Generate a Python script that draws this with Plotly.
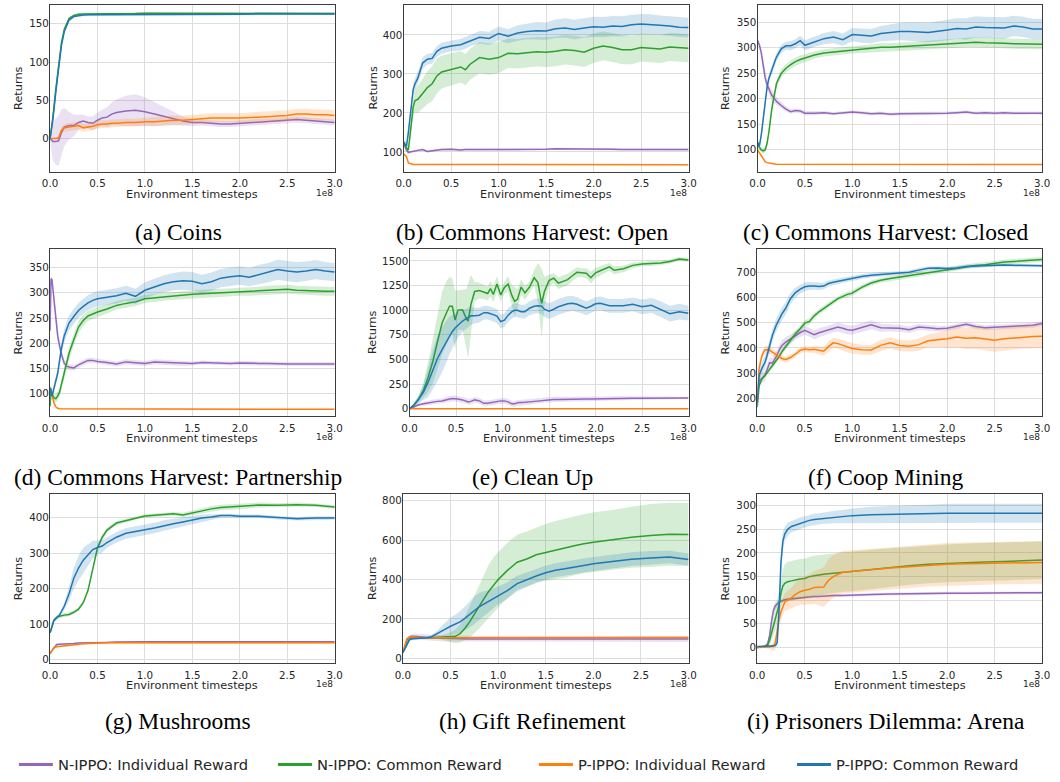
import plotly.graph_objects as go

# ---------------- data (x in units of 1e8 environment timesteps) ----------------
# (a) Coins
X_A = [0, 0.03, 0.06, 0.09, 0.12, 0.15, 0.2, 0.25, 0.3, 0.35, 0.4, 0.45, 0.5, 0.55, 0.6, 0.65, 0.7,
       0.8, 0.9, 1.0, 1.1, 1.2, 1.3, 1.4, 1.5, 1.6, 1.7, 1.8, 1.9, 2.0, 2.2, 2.4, 2.5, 2.6, 2.7, 2.8, 2.9, 3.0]
A_NI = [0, -4, -4, -3, 8, 15, 17, 17, 21, 23, 21, 20, 24, 27, 28, 32, 34,
        36, 37, 35, 32, 29, 26, 23, 21, 21, 20, 19, 19, 20, 22, 23, 24, 25, 24, 23, 22, 21]
A_NI_S = [2, 25, 30, 33, 30, 25, 18, 14, 10, 8, 8, 9, 10, 11, 13, 15, 17,
          20, 21, 19, 16, 12, 9, 6, 5, 4, 4, 4, 4, 4, 4, 4, 4, 4, 4, 4, 4, 4]
A_NC = [0, 28, 64, 98, 125, 143, 157, 161, 162.5, 163, 163, 163, 163.5, 163.5, 163.5, 163.5, 163.5,
        163.5, 163.5, 164, 164, 164, 164, 164, 164, 164, 164, 164, 164, 164, 164, 164, 164, 164, 164, 164, 164, 163.5]
A_NC_S = [0.5, 2, 3, 3, 3, 2, 2, 1.5, 1.5, 1.5, 1.5, 1.5, 1.5, 1.5, 1.5, 1.5, 1.5,
          1.5, 1.5, 1.5, 1.5, 1.5, 1.5, 1.5, 1.5, 1.5, 1.5, 1.5, 1.5, 1.5, 1.5, 1.5, 1.5, 1.5, 1.5, 1.5, 1.5, 1.5]
A_PI = [0, 0, 0, 1, 11, 14, 15, 16, 17, 14, 15, 16, 18, 19, 19, 20, 20,
        21, 21, 22, 22, 23, 24, 24, 25, 26, 27, 27, 27, 27, 28, 29, 30, 32, 32, 31, 31, 30]
A_PI_S = [0.5, 0.5, 0.5, 2, 4, 5, 5, 5, 5, 5, 5, 5, 5, 5, 5, 5, 5,
          5, 5, 5, 6, 6, 6, 6, 6, 6, 6, 6, 6, 6, 7, 7, 7, 7, 7, 7, 7, 7]
A_PC = [0, 25, 60, 95, 122, 140, 155, 159.5, 161, 161.5, 162, 162, 162, 162, 162, 162, 162,
        162.5, 162.5, 162.5, 162.5, 162.5, 162.5, 162.5, 162.5, 162.5, 162.5, 162.5, 162.5, 162.5,
        163, 163, 163, 163, 163, 163, 163, 163]
A_PC_S = [0.5, 2, 3, 3, 3, 2, 2, 1.5, 1.5, 1.5, 1.5, 1.5, 1.5, 1.5, 1.5, 1.5, 1.5,
          1.5, 1.5, 1.5, 1.5, 1.5, 1.5, 1.5, 1.5, 1.5, 1.5, 1.5, 1.5, 1.5, 1.5, 1.5, 1.5, 1.5, 1.5, 1.5, 1.5, 1.5]

# (b) Commons Harvest: Open
X_B = [0, 0.03, 0.05, 0.08, 0.1, 0.12, 0.15, 0.2, 0.25, 0.3,
       0.35, 0.4, 0.5, 0.6, 0.65, 0.7, 0.8, 0.9, 1.0,
       1.1, 1.2, 1.3, 1.4, 1.5, 1.6, 1.7, 1.8, 1.9, 2.0,
       2.1, 2.2, 2.3, 2.4, 2.5, 2.6, 2.7, 2.8, 2.9, 3.0]
B_NI = [124, 105, 99, 100, 102, 103, 104, 106, 101, 103,
        105, 106, 107, 105, 106, 106, 107, 107, 107,
        106, 106, 107, 107, 107, 108, 108, 107, 107, 107,
        107, 107, 106, 106, 106, 106, 106, 106, 106, 106]
B_NI_S = [5, 5, 4, 3, 3, 3, 3, 3, 3, 3,
          3, 3, 3, 3, 3, 3, 3, 3, 3,
          3, 3, 3, 3, 3, 3, 3, 3, 3, 3,
          3, 3, 3, 3, 3, 3, 3, 3, 3, 3]
B_NC = [124, 110, 105, 170, 215, 232, 235, 250, 265, 275,
        295, 305, 312, 318, 311, 325, 342, 338, 342,
        353, 352, 355, 357, 356, 358, 362, 360, 356, 366,
        372, 368, 362, 362, 368, 366, 364, 369, 367, 366]
B_NC_S = [8, 10, 12, 20, 25, 30, 35, 38, 42, 45,
          45, 42, 42, 40, 40, 40, 40, 40, 40,
          38, 38, 38, 38, 38, 38, 38, 38, 38, 38,
          37, 37, 37, 37, 36, 36, 36, 36, 36, 36]
B_PI = [95, 88, 72, 69, 68, 68, 68, 68, 68, 68,
        68, 67, 67, 67, 67, 67, 67, 67, 67,
        67, 67, 67, 67, 67, 67, 67, 67, 67, 67,
        67, 67, 67, 67, 67, 67, 67, 67, 67, 67]
B_PI_S = [2, 2, 2, 1, 1, 1, 1, 1, 1, 1,
          1, 1, 1, 1, 1, 1, 1, 1, 1,
          1, 1, 1, 1, 1, 1, 1, 1, 1, 1,
          1, 1, 1, 1, 1, 1, 1, 1, 1, 1]
B_PC = [124, 115, 150, 210, 260, 275, 290, 328, 338, 340,
        358, 366, 372, 375, 380, 386, 394, 391, 404,
        397, 405, 409, 411, 410, 416, 418, 414, 418, 421,
        420, 423, 422, 426, 428, 427, 425, 423, 420, 419]
B_PC_S = [8, 10, 12, 15, 15, 15, 15, 15, 14, 14,
          14, 14, 14, 15, 15, 15, 16, 17, 18,
          18, 20, 20, 22, 22, 24, 25, 25, 25, 26,
          26, 26, 26, 26, 26, 26, 25, 25, 25, 25]

# (c) Commons Harvest: Closed
X_C = [0, 0.02, 0.04, 0.06, 0.08, 0.1, 0.12, 0.15, 0.18, 0.2,
       0.25, 0.3, 0.35, 0.4, 0.45, 0.5, 0.6, 0.7, 0.8, 0.9,
       1.0, 1.1, 1.2, 1.3, 1.4, 1.5, 1.6, 1.8, 2.0, 2.1,
       2.2, 2.3, 2.4, 2.5, 2.6, 2.7, 2.8, 2.9, 3.0]
C_NI = [315, 305, 290, 265, 242, 228, 218, 207, 200, 195,
        187, 180, 175, 177, 176, 172, 172, 173, 171, 173,
        174, 173, 171, 172, 170, 171, 171, 171, 172, 173,
        174, 172, 173, 172, 173, 172, 172, 173, 172]
C_NI_S = [5, 6, 8, 10, 10, 10, 10, 10, 9, 8,
          6, 5, 4, 4, 4, 4, 4, 3, 3, 3,
          3, 3, 3, 3, 3, 3, 3, 3, 3, 3,
          3, 3, 3, 3, 3, 3, 3, 3, 3]
C_NC = [110, 104, 100, 98, 100, 112, 135, 180, 215, 230,
        250, 260, 267, 273, 277, 280, 286, 290, 292, 294,
        296, 298, 299, 301, 301, 302, 304, 306, 308, 309,
        310, 311, 310, 310, 309, 308, 308, 307, 307]
C_NC_S = [5, 5, 5, 5, 5, 6, 7, 8, 8, 8,
          8, 8, 8, 8, 8, 8, 7, 7, 7, 7,
          7, 7, 7, 8, 8, 8, 8, 8, 9, 9,
          9, 10, 10, 10, 10, 10, 10, 10, 10]
C_PI = [100, 94, 88, 82, 77, 75, 74, 73, 72.5, 72,
        72, 72, 72, 72, 72, 72, 72, 72, 72, 72,
        72, 72, 72, 72, 72, 72, 72, 72, 72, 72,
        72, 72, 72, 72, 72, 72, 71.5, 71.5, 71.5]
C_PI_S = [2, 2, 2, 2, 1, 1, 1, 1, 1, 1,
          1, 1, 1, 1, 1, 1, 1, 1, 1, 1,
          1, 1, 1, 1, 1, 1, 1, 1, 1, 1,
          1, 1, 1, 1, 1, 1, 1, 1, 1]
C_PC = [115, 108, 130, 160, 190, 222, 240, 258, 272, 282,
        298, 304, 304, 308, 314, 305, 312, 318, 321, 316,
        326, 324, 323, 328, 330, 332, 332, 330, 335, 338,
        337, 341, 340, 340, 339, 343, 341, 337, 337]
C_PC_S = [5, 6, 7, 8, 8, 8, 8, 8, 8, 8,
          8, 8, 9, 9, 10, 10, 10, 11, 12, 12,
          13, 14, 14, 15, 16, 17, 18, 19, 20, 20,
          21, 21, 21, 21, 21, 20, 20, 20, 20]

# (d) Commons Harvest: Partnership
X_D = [0, 0.01, 0.02, 0.04, 0.06, 0.08, 0.1, 0.12, 0.15, 0.18,
       0.2, 0.25, 0.3, 0.35, 0.4, 0.45, 0.5, 0.6, 0.7, 0.8,
       0.9, 1.0, 1.1, 1.2, 1.3, 1.4, 1.5, 1.6, 1.7, 1.8,
       1.9, 2.0, 2.1, 2.2, 2.3, 2.4, 2.5, 2.6, 2.7, 2.8,
       2.9, 3.0]
D_NI = [225, 328, 326, 290, 253, 215, 195, 178, 160, 154,
        153, 151, 157, 162, 166, 166, 164, 162, 159, 163,
        161, 160, 163, 162, 161, 160, 160, 162, 161, 161,
        160, 161, 160, 160, 160, 159, 159, 159, 159, 159,
        159, 159]
D_NI_S = [5, 5, 5, 8, 10, 10, 10, 9, 8, 7,
          6, 5, 5, 5, 5, 5, 5, 5, 5, 5,
          5, 5, 5, 5, 5, 5, 4, 4, 4, 4,
          4, 4, 4, 4, 4, 4, 4, 4, 4, 4,
          4, 4]
D_NC = [75, 110, 100, 92, 90, 95, 103, 118, 140, 167,
        180, 207, 232, 245, 254, 258, 262, 268, 275, 279,
        282, 288, 290, 292, 294, 296, 297, 298, 299, 300,
        301, 302, 302, 303, 305, 306, 307, 305, 304, 304,
        303, 303]
D_NC_S = [5, 6, 7, 8, 8, 8, 9, 10, 11, 12,
          12, 12, 12, 11, 10, 10, 10, 9, 8, 8,
          8, 8, 8, 8, 8, 8, 8, 8, 8, 8,
          8, 8, 8, 9, 9, 9, 9, 9, 9, 9,
          9, 9]
D_PI = [112, 108, 100, 82, 74, 71, 70, 70, 70, 70,
        70, 70, 70, 70, 70, 70, 70, 70, 70, 70,
        70, 70, 70, 70, 70, 70, 70, 70, 70, 70,
        70, 70, 70, 70, 70, 70, 69, 69, 69, 69,
        69, 69]
D_PI_S = [3, 3, 3, 2, 1, 1, 1, 1, 1, 1,
          1, 1, 1, 1, 1, 1, 1, 1, 1, 1,
          1, 1, 1, 1, 1, 1, 1, 1, 1, 1,
          1, 1, 1, 1, 1, 1, 1, 1, 1, 1,
          1, 1]
D_PC = [112, 100, 95, 110, 125, 140, 165, 190, 215, 232,
        240, 253, 265, 273, 280, 285, 288, 291, 294, 299,
        293, 305, 312, 318, 322, 324, 323, 318, 322, 329,
        332, 334, 331, 336, 340, 346, 343, 341, 343, 346,
        343, 341]
D_PC_S = [5, 8, 8, 8, 9, 10, 12, 13, 14, 15,
          15, 15, 15, 15, 15, 15, 15, 15, 15, 15,
          15, 16, 16, 17, 17, 18, 18, 18, 18, 18,
          18, 18, 18, 19, 19, 20, 20, 20, 19, 19,
          18, 18]

# (e) Clean Up
X_E = [0, 0.05, 0.1, 0.15, 0.2, 0.25, 0.3, 0.35, 0.4, 0.43,
       0.46, 0.49, 0.52, 0.57, 0.61, 0.63, 0.66, 0.7, 0.75, 0.8,
       0.84, 0.87, 0.9, 0.94, 0.98, 1.02, 1.06, 1.1, 1.13, 1.16,
       1.2, 1.24, 1.29, 1.34, 1.38, 1.42, 1.45, 1.5, 1.55, 1.6,
       1.65, 1.7, 1.75, 1.8, 1.85, 1.9, 1.95, 2.0, 2.05, 2.1,
       2.15, 2.2, 2.3, 2.4, 2.5, 2.6, 2.7, 2.8, 2.9, 3.0]
E_NI = [0, 20, 40, 50, 60, 70, 75, 80, 95, 100,
        105, 105, 100, 90, 80, 70, 75, 90, 80, 55,
        55, 60, 65, 75, 80, 80, 70, 50, 50, 60,
        60, 65, 70, 75, 80, 85, 90, 95, 95, 95,
        97, 98, 100, 100, 100, 100, 100, 100, 102, 104,
        105, 105, 106, 107, 108, 108, 109, 110, 110, 110]
E_NI_S = [3, 10, 15, 20, 25, 25, 25, 25, 28, 30,
          30, 30, 30, 30, 30, 30, 30, 30, 30, 30,
          30, 30, 30, 30, 30, 30, 30, 30, 30, 30,
          30, 30, 28, 28, 28, 27, 27, 26, 26, 26,
          25, 25, 25, 25, 24, 24, 24, 23, 23, 23,
          22, 22, 20, 20, 18, 16, 15, 14, 13, 12]
E_NC = [0, 40, 100, 190, 320, 480, 680, 870, 980, 1040,
        1040, 900, 1000, 1005, 915, 890, 1060, 1190, 1200, 1185,
        1170, 1220, 1160, 1265, 1155, 1230, 1265, 1150, 1090, 1110,
        1235, 1175, 1235, 1330, 1280, 1070, 1190, 1300, 1325, 1275,
        1295, 1310, 1350, 1385, 1380, 1375, 1330, 1380, 1400, 1420,
        1440, 1405, 1420, 1455, 1470, 1475, 1480, 1495, 1520, 1510]
E_NC_S = [3, 20, 40, 80, 150, 220, 280, 320, 320, 300,
          280, 300, 200, 200, 300, 380, 300, 100, 80, 70,
          70, 80, 80, 80, 70, 60, 80, 100, 150, 100,
          80, 70, 60, 80, 200, 350, 150, 60, 50, 60,
          60, 60, 55, 50, 45, 50, 60, 50, 45, 45,
          40, 40, 35, 30, 25, 25, 22, 20, 20, 20]
E_PI = [0, 0, 0, 0, 0, 0, 0, 0, 0, 0,
        0, 0, 0, 0, 0, 0, 0, 0, 0, 0,
        0, 0, 0, 0, 0, 0, 0, 0, 0, 0,
        0, 0, 0, 0, 0, 0, 0, 0, 0, 0,
        0, 0, 0, 0, 0, 0, 0, 0, 0, 0,
        0, 0, 0, 0, 0, 0, 0, 0, 0, 0]
E_PI_S = [2, 2, 2, 2, 2, 2, 2, 2, 2, 2,
          2, 2, 2, 2, 2, 2, 2, 2, 2, 2,
          2, 2, 2, 2, 2, 2, 2, 2, 2, 2,
          2, 2, 2, 2, 2, 2, 2, 2, 2, 2,
          2, 2, 2, 2, 2, 2, 2, 2, 2, 2,
          2, 2, 2, 2, 2, 2, 2, 2, 2, 2]
E_PC = [0, 40, 100, 170, 270, 400, 510, 600, 690, 745,
        785, 820, 850, 890, 915, 925, 943, 945, 950, 975,
        975, 965, 955, 940, 885, 900, 950, 985, 1000, 1000,
        985, 985, 1020, 1040, 1045, 1040, 1010, 990, 1010, 1035,
        1050, 1065, 1070, 1060, 1040, 1020, 1040, 1065, 1070, 1055,
        1045, 1045, 1045, 1060, 1035, 1050, 1010, 965, 985, 970]
E_PC_S = [3, 20, 40, 80, 150, 200, 230, 230, 210, 190,
          170, 150, 130, 110, 100, 100, 90, 80, 75, 70,
          70, 70, 70, 70, 70, 70, 70, 70, 70, 70,
          70, 70, 70, 75, 75, 80, 80, 80, 80, 80,
          80, 80, 75, 75, 70, 70, 70, 70, 70, 70,
          70, 70, 70, 70, 75, 75, 80, 80, 80, 75]

# (f) Coop Mining
X_F = [0, 0.02, 0.05, 0.08, 0.1, 0.13, 0.16, 0.2, 0.23, 0.26,
       0.3, 0.35, 0.4, 0.45, 0.5, 0.55, 0.6, 0.65, 0.7, 0.75,
       0.8, 0.85, 0.9, 0.95, 1.0, 1.1, 1.2, 1.3, 1.4, 1.5,
       1.6, 1.7, 1.8, 1.9, 2.0, 2.1, 2.2, 2.3, 2.4, 2.5,
       2.6, 2.7, 2.8, 2.9, 3.0]
F_NI = [195, 270, 280, 290, 310, 341, 340, 365, 390, 410,
        423, 435, 450, 460, 470, 462, 452, 460, 466, 472,
        480, 483, 478, 472, 470, 480, 492, 480, 480, 478,
        472, 483, 480, 476, 478, 485, 494, 485, 480, 482,
        485, 486, 488, 490, 497]
F_NI_S = [10, 20, 20, 20, 20, 20, 20, 20, 20, 20,
          20, 18, 18, 18, 18, 18, 18, 18, 18, 18,
          18, 18, 18, 18, 18, 18, 18, 16, 15, 14,
          13, 12, 12, 11, 10, 10, 10, 10, 10, 10,
          10, 10, 10, 10, 10]
F_NC = [165, 250, 278, 290, 300, 315, 330, 350, 365, 385,
        405, 430, 455, 475, 498, 505, 527, 543, 557, 570,
        582, 595, 605, 612, 617, 640, 657, 668, 675, 681,
        687, 693, 698, 702, 708, 716, 722, 726, 729, 735,
        740, 742, 745, 748, 750]
F_NC_S = [8, 10, 10, 10, 10, 10, 10, 10, 11, 12,
          12, 12, 12, 12, 12, 12, 12, 11, 11, 10,
          10, 10, 10, 10, 10, 10, 10, 10, 10, 10,
          10, 10, 10, 10, 10, 10, 10, 10, 10, 10,
          10, 10, 10, 10, 10]
F_PI = [180, 320, 370, 392, 394, 391, 383, 372, 365, 358,
        354, 362, 375, 390, 396, 393, 395, 390, 387, 405,
        420, 417, 410, 402, 398, 393, 392, 410, 420, 410,
        407, 413, 428, 432, 436, 443, 438, 440, 436, 430,
        436, 440, 443, 445, 446]
F_PI_S = [10, 15, 15, 15, 15, 15, 15, 15, 15, 13,
          12, 12, 12, 12, 12, 12, 14, 16, 18, 20,
          20, 20, 20, 20, 20, 20, 20, 22, 22, 22,
          22, 24, 25, 28, 35, 40, 42, 44, 45, 45,
          46, 46, 46, 46, 46]
F_PC = [180, 290, 320, 341, 365, 407, 450, 490, 515, 535,
        557, 595, 618, 632, 642, 645, 645, 643, 645, 655,
        660, 664, 668, 672, 676, 683, 688, 692, 694, 697,
        700, 708, 715, 716, 714, 716, 722, 724, 726, 727,
        728, 727, 726, 725, 725]
F_PC_S = [10, 20, 25, 25, 25, 25, 25, 25, 25, 25,
          25, 22, 20, 18, 18, 16, 15, 14, 13, 12,
          12, 11, 11, 10, 10, 10, 9, 9, 8, 8,
          8, 8, 7, 7, 7, 7, 7, 6, 6, 6,
          6, 6, 6, 6, 6]

# (g) Mushrooms
X_G = [0, 0.02, 0.04, 0.07, 0.1, 0.15, 0.2, 0.25, 0.3, 0.35,
       0.4, 0.45, 0.5, 0.55, 0.6, 0.7, 0.8, 0.9, 1.0, 1.1,
       1.2, 1.3, 1.4, 1.5, 1.6, 1.7, 1.8, 1.9, 2.0, 2.2,
       2.4, 2.6, 2.8, 3.0]
G_NI = [18, 25, 32, 42, 43, 43, 44, 45, 46, 46,
        47, 47, 48, 48, 48, 49, 50, 50, 50, 50,
        50, 50, 50, 50, 50, 50, 50, 50, 50, 50,
        50, 50, 50, 50]
G_NI_S = [2, 2, 2, 2, 2, 2, 2, 2, 2, 2,
          2, 2, 2, 2, 2, 2, 2, 2, 2, 2,
          2, 2, 2, 2, 2, 2, 2, 2, 2, 2,
          2, 2, 2, 2]
G_NC = [75, 90, 110, 118, 122, 125, 127, 133, 142, 160,
        195, 255, 315, 345, 365, 385, 392, 400, 405, 407,
        408, 411, 408, 414, 420, 425, 429, 431, 432, 436,
        435, 437, 435, 430]
G_NC_S = [3, 4, 5, 5, 5, 5, 5, 5, 5, 6,
          6, 7, 7, 7, 6, 6, 5, 5, 5, 5,
          5, 5, 6, 7, 8, 8, 8, 8, 8, 7,
          6, 6, 5, 5]
G_PI = [15, 25, 33, 36, 37, 38, 40, 42, 43, 44,
        45, 46, 46, 47, 47, 47, 47, 47, 48, 48,
        48, 48, 47, 47, 47, 47, 47, 47, 47, 47,
        47, 47, 47, 47]
G_PI_S = [2, 3, 3, 3, 3, 3, 3, 3, 3, 3,
          3, 3, 3, 3, 3, 3, 3, 3, 3, 3,
          3, 3, 3, 3, 3, 3, 3, 3, 3, 3,
          3, 3, 3, 3]
G_PC = [75, 90, 110, 118, 125, 150, 185, 229, 258, 280,
        295, 310, 316, 320, 330, 345, 356, 362, 366, 371,
        378, 383, 388, 394, 399, 402, 406, 406, 404, 404,
        400, 397, 399, 399]
G_PC_S = [3, 4, 5, 5, 5, 10, 20, 30, 35, 35,
          30, 25, 20, 18, 15, 15, 15, 15, 15, 15,
          15, 14, 12, 11, 10, 8, 6, 5, 5, 5,
          5, 5, 5, 5]

# (h) Gift Refinement
X_H = [0, 0.02, 0.04, 0.07, 0.1, 0.15, 0.2, 0.25, 0.3, 0.35,
       0.4, 0.45, 0.5, 0.55, 0.6, 0.65, 0.7, 0.75, 0.8, 0.85,
       0.9, 0.95, 1.0, 1.1, 1.2, 1.3, 1.4, 1.5, 1.6, 1.7,
       1.8, 1.9, 2.0, 2.2, 2.4, 2.6, 2.8, 3.0]
H_NI = [30, 60, 90, 110, 112, 111, 108, 106, 104, 103,
        102, 101, 100, 100, 99, 99, 99, 99, 98, 98,
        98, 98, 98, 98, 99, 99, 99, 99, 99, 100,
        100, 100, 100, 100, 99, 99, 98, 98]
H_NI_S = [3, 5, 8, 10, 12, 14, 15, 15, 15, 15,
          15, 15, 15, 15, 15, 15, 15, 15, 15, 15,
          15, 15, 15, 15, 15, 15, 15, 15, 15, 15,
          15, 15, 15, 15, 15, 15, 15, 15]
H_NC = [30, 50, 75, 98, 102, 104, 105, 105, 105, 106,
        106, 107, 108, 112, 125, 152, 185, 222, 262, 302,
        340, 372, 400, 448, 488, 505, 526, 538, 550, 560,
        572, 582, 590, 602, 615, 624, 631, 629]
H_NC_S = [5, 8, 8, 5, 5, 5, 5, 5, 5, 7,
          10, 15, 25, 35, 45, 60, 80, 95, 110, 125,
          135, 140, 140, 140, 140, 140, 140, 145, 148, 150,
          150, 150, 152, 152, 155, 160, 160, 160]
H_PI = [30, 70, 100, 108, 107, 106, 105, 105, 105, 105,
        105, 105, 105, 105, 105, 105, 105, 105, 105, 105,
        105, 105, 105, 105, 105, 105, 105, 105, 105, 105,
        105, 105, 105, 106, 106, 106, 106, 106]
H_PI_S = [3, 4, 4, 4, 4, 4, 4, 4, 4, 4,
          4, 4, 4, 4, 4, 4, 4, 4, 4, 4,
          4, 4, 4, 4, 4, 4, 4, 4, 4, 4,
          4, 4, 4, 4, 4, 4, 4, 4]
H_PC = [30, 50, 72, 95, 100, 101, 103, 105, 110, 122,
        136, 150, 163, 172, 185, 203, 222, 245, 262, 276,
        290, 305, 320, 345, 380, 400, 418, 435, 448, 455,
        462, 472, 480, 492, 504, 510, 515, 502]
H_PC_S = [5, 6, 6, 5, 5, 5, 5, 6, 8, 15,
          25, 35, 45, 50, 55, 60, 65, 70, 70, 65,
          55, 50, 45, 42, 40, 38, 35, 35, 35, 35,
          35, 35, 35, 35, 35, 35, 32, 30]

# (i) Prisoners Dilemma: Arena
X_I = [0, 0.05, 0.08, 0.11, 0.13, 0.15, 0.17, 0.19, 0.21, 0.23,
       0.25, 0.27, 0.29, 0.32, 0.36, 0.4, 0.45, 0.5, 0.55, 0.6,
       0.65, 0.7, 0.75, 0.8, 0.9, 1.0, 1.2, 1.4, 1.6, 1.8,
       2.0, 2.2, 2.4, 2.6, 2.8, 3.0]
I_NI = [0, 1, 2, 8, 25, 55, 78, 88, 93, 96,
        98, 100, 101, 102, 103, 104, 105, 106, 107, 108,
        108, 109, 109, 110, 110, 111, 112, 113, 114, 114,
        115, 115, 115, 116, 116, 116]
I_NI_S = [1, 1, 2, 4, 8, 10, 10, 8, 6, 5,
          4, 4, 3, 3, 3, 3, 3, 3, 3, 3,
          3, 3, 3, 3, 3, 3, 3, 3, 3, 3,
          3, 3, 3, 3, 3, 3]
I_NC = [0, 1, 2, 5, 15, 30, 45, 60, 75, 90,
        115, 130, 136, 139, 141, 143, 145, 146, 150, 152,
        154, 155, 156, 157, 160, 161, 165, 169, 173, 176,
        178, 180, 181, 182, 183, 185]
I_NC_S = [1, 2, 3, 5, 10, 15, 20, 25, 25, 25,
          30, 35, 40, 42, 42, 42, 42, 42, 42, 42,
          42, 42, 42, 42, 42, 42, 42, 41, 40, 40,
          40, 40, 40, 40, 40, 40]
I_PI = [0, 1, 1, 1, 1, 2, 3, 10, 35, 60,
        75, 88, 96, 100, 105, 112, 118, 121, 123, 127,
        127, 128, 142, 150, 159, 161, 164, 168, 171, 174,
        176, 177, 178, 179, 180, 180]
I_PI_S = [1, 2, 2, 3, 4, 6, 10, 15, 18, 18,
          18, 18, 18, 20, 22, 25, 28, 30, 32, 35,
          38, 42, 45, 45, 45, 45, 45, 45, 45, 45,
          45, 45, 45, 45, 45, 45]
I_PC = [2, 3, 3, 3, 3, 3, 3, 4, 10, 80,
        180, 225, 240, 250, 256, 259, 263, 266, 269, 271,
        272, 274, 275, 276, 277, 279, 281, 282, 282, 283,
        284, 284, 284, 284, 284, 284]
I_PC_S = [1, 1, 1, 1, 1, 1, 1, 2, 8, 20,
          25, 20, 15, 14, 12, 12, 12, 12, 12, 12,
          12, 12, 13, 13, 14, 15, 17, 18, 19, 19,
          20, 20, 20, 20, 20, 20]

SERIES_NAMES = ["N-IPPO: Individual Reward", "N-IPPO: Common Reward",
                "P-IPPO: Individual Reward", "P-IPPO: Common Reward"]
CAPTIONS = ["(a) Coins", "(b) Commons Harvest: Open", "(c) Commons Harvest: Closed",
            "(d) Commons Harvest: Partnership", "(e) Clean Up", "(f) Coop Mining",
            "(g) Mushrooms", "(h) Gift Refinement", "(i) Prisoners Dilemma: Arena"]
Y_TICK_STEP = [50, 100, 50, 50, 250, 100, 100, 200, 50]

# ---------------- style / layout ----------------
SERIES_COLORS = ["#9467bd", "#2ca02c", "#ff7f0e", "#1f77b4"]
Y_RANGES = [[-43.5, 174.7], [49, 477], [57, 384], [55, 386], [-77, 1617],
            [129, 790], [-10.4, 465.7], [-24, 832.5], [-33, 323.8]]
W, H = 1060, 782
LEFTS = [42.7, 401.7, 761, 42.7, 407.7, 760.7, 42.7, 401, 760.7]
RIGHTS = [331.7, 691, 1050]
ROW_TOP = [5, 250.7, 497]
ROW_BOT = [172.7, 418.5, 666.5]
RET_X = [10.7, 370.7, 728.7]
CAP_X = [173, 532.5, 891]
CAP_Y = [233, 479, 725]
LEGEND_LINE_X = [20, 283, 548, 810]
GRID = "#dddddd"
FRAME = "#3d3d3d"
TXT = "#262626"
TICKFONT = dict(family="DejaVu Sans", size=10.3, color=TXT)

PANELS = [
    (X_A, [(A_NI, A_NI_S), (A_NC, A_NC_S), (A_PI, A_PI_S), (A_PC, A_PC_S)]),
    (X_B, [(B_NI, B_NI_S), (B_NC, B_NC_S), (B_PI, B_PI_S), (B_PC, B_PC_S)]),
    (X_C, [(C_NI, C_NI_S), (C_NC, C_NC_S), (C_PI, C_PI_S), (C_PC, C_PC_S)]),
    (X_D, [(D_NI, D_NI_S), (D_NC, D_NC_S), (D_PI, D_PI_S), (D_PC, D_PC_S)]),
    (X_E, [(E_NI, E_NI_S), (E_NC, E_NC_S), (E_PI, E_PI_S), (E_PC, E_PC_S)]),
    (X_F, [(F_NI, F_NI_S), (F_NC, F_NC_S), (F_PI, F_PI_S), (F_PC, F_PC_S)]),
    (X_G, [(G_NI, G_NI_S), (G_NC, G_NC_S), (G_PI, G_PI_S), (G_PC, G_PC_S)]),
    (X_H, [(H_NI, H_NI_S), (H_NC, H_NC_S), (H_PI, H_PI_S), (H_PC, H_PC_S)]),
    (X_I, [(I_NI, I_NI_S), (I_NC, I_NC_S), (I_PI, I_PI_S), (I_PC, I_PC_S)]),
]


def rgba(hexcol, a):
    h = hexcol.lstrip("#")
    r, g, b = int(h[0:2], 16), int(h[2:4], 16), int(h[4:6], 16)
    return f"rgba({r},{g},{b},{a})"


fig = go.Figure()
layout = {}
annotations = []

for i, (xs, series) in enumerate(PANELS):
    n = i + 1
    r, c = divmod(i, 3)
    xa = "x" if n == 1 else f"x{n}"
    ya = "y" if n == 1 else f"y{n}"
    for (mean, spread), col in zip(series, SERIES_COLORS):
        upper = [m + s for m, s in zip(mean, spread)]
        lower = [m - s for m, s in zip(mean, spread)]
        fig.add_trace(go.Scatter(
            x=xs + xs[::-1], y=upper + lower[::-1], fill="toself",
            fillcolor=rgba(col, 0.2), line=dict(width=0, color="rgba(0,0,0,0)"),
            mode="lines", hoverinfo="skip", showlegend=False, xaxis=xa, yaxis=ya))
        fig.add_trace(go.Scatter(
            x=xs, y=mean, mode="lines", line=dict(color=col, width=1.5),
            showlegend=False, xaxis=xa, yaxis=ya))

    left, right = LEFTS[i], RIGHTS[c]
    top, bot = ROW_TOP[r], ROW_BOT[r]
    layout["xaxis" if n == 1 else f"xaxis{n}"] = dict(
        domain=[left / W, right / W], anchor=ya, range=[0, 3], tick0=0, dtick=0.5,
        tickformat=".1f", showgrid=True, gridcolor=GRID, gridwidth=1, zeroline=False,
        showline=True, mirror=True, linecolor=FRAME, linewidth=1.3, ticks="",
        ticklabelstandoff=2, ticklabeloverflow="allow",
        tickfont=TICKFONT, fixedrange=True)
    layout["yaxis" if n == 1 else f"yaxis{n}"] = dict(
        domain=[1 - bot / H, 1 - top / H], anchor=xa, range=Y_RANGES[i], tick0=0,
        dtick=Y_TICK_STEP[i], showgrid=True, gridcolor=GRID, gridwidth=1, zeroline=False,
        showline=True, mirror=True, linecolor=FRAME, linewidth=1.3, ticks="",
        ticklabelstandoff=-2, ticklabeloverflow="allow",
        tickfont=TICKFONT, fixedrange=True)

    annotations.append(dict(text="Returns", x=RET_X[c] / W, y=1 - (top + bot) / 2 / H,
                            xref="paper", yref="paper", showarrow=False, textangle=-90,
                            xanchor="center", yanchor="middle",
                            font=dict(family="DejaVu Sans", size=11.3, color=TXT)))
    annotations.append(dict(text="Environment timesteps", x=(left + right) / 2 / W,
                            y=1 - (bot + 22.5) / H, xref="paper", yref="paper",
                            showarrow=False, xanchor="center", yanchor="middle",
                            font=dict(family="DejaVu Sans", size=11.3, color=TXT)))
    annotations.append(dict(text="1e8", x=right / W, y=1 - (bot + 21) / H,
                            xref="paper", yref="paper", showarrow=False,
                            xanchor="right", yanchor="middle",
                            font=dict(family="DejaVu Sans", size=9, color=TXT)))
    annotations.append(dict(text=CAPTIONS[i], x=CAP_X[c] / W, y=1 - CAP_Y[r] / H,
                            xref="paper", yref="paper", showarrow=False,
                            xanchor="center", yanchor="middle",
                            font=dict(family="Liberation Serif", size=23.5, color="black")))

legends = {}
for k, (name, col) in enumerate(zip(SERIES_NAMES, SERIES_COLORS)):
    lkey = "legend" if k == 0 else f"legend{k + 1}"
    fig.add_trace(go.Scatter(x=[None], y=[None], mode="lines", name=name,
                             line=dict(color=col, width=3), showlegend=True,
                             legend=lkey))
    legends[lkey] = dict(orientation="h", x=(LEGEND_LINE_X[k] - 14) / W, xanchor="left",
                         y=1 - 769 / H, yanchor="middle",
                         font=dict(family="DejaVu Sans", size=14.7, color=TXT),
                         bgcolor="rgba(0,0,0,0)", borderwidth=0, itemwidth=34)

fig.update_layout(
    width=W, height=H, autosize=False,
    margin=dict(l=0, r=0, t=0, b=0),
    paper_bgcolor="white", plot_bgcolor="white",
    annotations=annotations,
    showlegend=True,
    hovermode=False,
    **legends,
    **layout,
)

fig.write_html("out.html", config={"displayModeBar": False},
               post_script="document.body.style.margin='0';"
                           "document.body.style.overflow='hidden';")
